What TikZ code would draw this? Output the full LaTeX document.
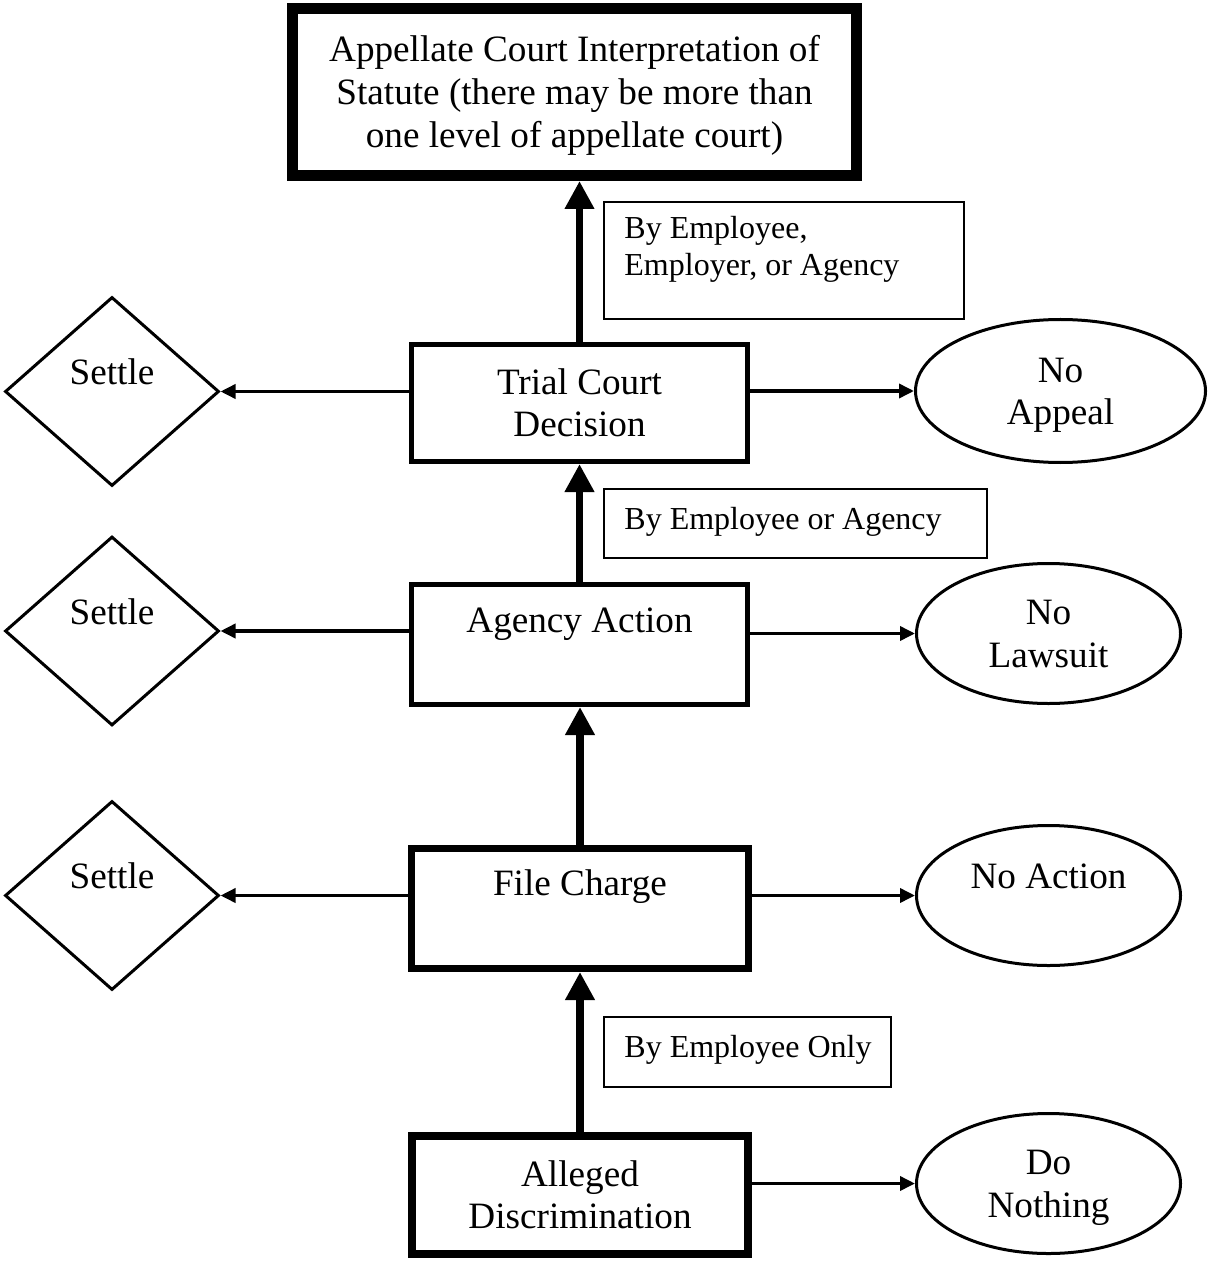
\documentclass[tikz,border=0pt]{standalone}
\usepackage{fontspec}
\setmainfont{Liberation Serif}
\usetikzlibrary{shapes.geometric,arrows.meta}
\newcommand\wordstrutX{\rule[-0.216em]{0pt}{1.107em}}
\newcommand\lblstrutX{\rule{0pt}{12pt}}
\begin{document}
\begin{tikzpicture}[x=0.5pt,y=-0.5pt,
  main/.style={font=\fontsize{18.6}{21.4}\selectfont, align=center, inner sep=0pt},
  box/.style={main, draw, rectangle, minimum width=168pt},
  dia/.style={main, draw, diamond, line width=1.5pt, minimum width=107pt, minimum height=94.5pt, text height=13pt, text depth=20pt},
  ell/.style={main, draw, ellipse, line width=1.5pt},
  lblbox/.style={draw, line width=1pt, inner sep=0pt},
  lbltext/.style={font=\fontsize{16}{18.8}\selectfont, align=left, inner sep=0pt, anchor=north west},
  uparr/.style={line width=3.75pt, -{Triangle[length=14pt,width=14pt]}},
  sidearr/.style={line width=1.75pt, -{Triangle[length=7.5pt,width=7pt]}}]
\useasboundingbox (0,0) rectangle (1209,1261);

% main boxes
\node[box, line width=5.5pt, minimum width=282pt, minimum height=83.5pt] (top) at (574.5,92)
  {\wordstrutX Appellate Court Interpretation of\\Statute (there may be more than\\one level of appellate court)\wordstrutX};
\node[box, line width=2.5pt, minimum height=58.5pt] (trial) at (579.5,403)
  {\wordstrutX Trial Court\\Decision\wordstrutX};
\node[box, line width=2.5pt, minimum height=60pt, text height=13pt, text depth=25.5pt] (agency) at (579.5,644.5)
  {Agency Action};
\node[box, line width=3.5pt, minimum width=168.5pt, minimum height=60pt, text height=13pt, text depth=26.5pt] (file) at (580,908.5)
  {File Charge};
\node[box, line width=4pt, minimum height=59pt] (alleged) at (580,1195)
  {\wordstrutX Alleged\\Discrimination\wordstrutX};

% settle diamonds
\node[dia] (s1) at (112,391.5) {Settle};
\node[dia] (s2) at (112,631) {Settle};
\node[dia] (s3) at (112,895.5) {Settle};

% ellipses
\node[ell, minimum width=145pt, minimum height=71.5pt] (na) at (1060.5,391)
  {\wordstrutX No\\Appeal\wordstrutX};
\node[ell, minimum width=132pt, minimum height=70pt] (nl) at (1048.5,633.5)
  {\wordstrutX No\\Lawsuit\wordstrutX};
\node[ell, minimum width=132pt, minimum height=70pt, text height=13pt, text depth=20.5pt] (nac) at (1048.5,895.5)
  {No Action};
\node[ell, minimum width=132pt, minimum height=70pt] (dn) at (1048.5,1183.5)
  {\wordstrutX Do\\Nothing\wordstrutX};

% label boxes
\node[lblbox, minimum width=180pt, minimum height=58.5pt] (l1) at (784,260.5) {};
\node[lbltext] (t1) at ([xshift=10.5pt,yshift=-6.5pt]l1.north west)
  {\lblstrutX By Employee,\\Employer, or Agency};
\node[lblbox, minimum width=191.5pt, minimum height=34.5pt] (l2) at (795.5,523.5) {};
\node[lbltext] (t2) at ([xshift=10.5pt,yshift=-8.5pt]l2.north west)
  {\lblstrutX By Employee or Agency};
\node[lblbox, minimum width=143.5pt, minimum height=35pt] (l3) at (747.5,1052) {};
\node[lbltext] (t3) at ([xshift=10.5pt,yshift=-8.5pt]l3.north west)
  {\lblstrutX By Employee Only};

% vertical arrows
\draw[uparr] (trial.north) -- (trial.north |- top.south);
\draw[uparr] (agency.north) -- (agency.north |- trial.south);
\draw[uparr] (file.north) -- (file.north |- agency.south);
\draw[uparr] (alleged.north) -- (alleged.north |- file.south);

% side arrows
\draw[sidearr] (s1.east -| trial.west) -- (s1.east);
\draw[sidearr] (s2.east -| agency.west) -- (s2.east);
\draw[sidearr] (s3.east -| file.west) -- (s3.east);
\draw[sidearr] (na.west -| trial.east) -- (na.west);
\draw[sidearr] (nl.west -| agency.east) -- (nl.west);
\draw[sidearr] (nac.west -| file.east) -- (nac.west);
\draw[sidearr] (dn.west -| alleged.east) -- (dn.west);
\end{tikzpicture}
\end{document}
